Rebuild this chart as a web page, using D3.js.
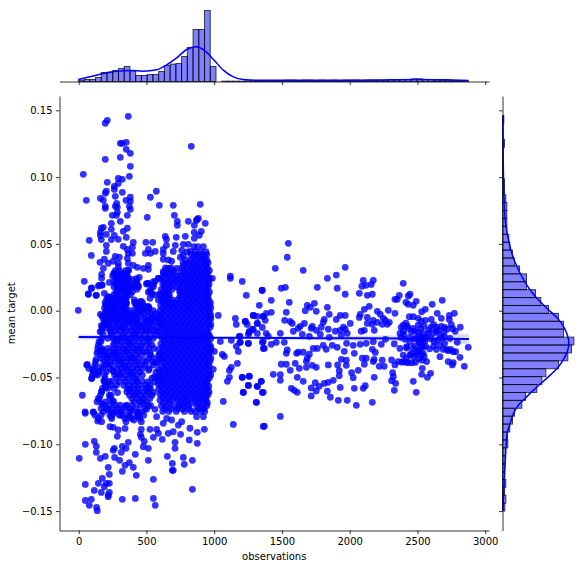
<!DOCTYPE html>
<html><head><meta charset="utf-8">
<script src="https://cdnjs.cloudflare.com/ajax/libs/d3/7.8.5/d3.min.js"></script>
<style>html,body{margin:0;padding:0;background:#fff}svg{display:block}text{font-family:"DejaVu Sans",sans-serif;font-size:10px;fill:#000}</style>
</head><body><svg id="c" width="583" height="568"></svg>
<script>
const xTicks=[0,500,1000,1500,2000,2500,3000];
const yTicks=[-0.15,-0.10,-0.05,0,0.05,0.10,0.15];
const xLabel="observations", yLabel="mean target";
const histXStart=-3, histXWidth=42.35;
const histXCounts=[4,6,6,12,27,28,33,39,45,32,18,18,21,21,30,48,52,54,75,102,156,156,213,45,
 0,1,1,1,1,2,2,2,3,3,3,3,4,4,3,4,4,3,4,3,4,3,4,4,4,3,4,4,4,4,5,5,6,6,8,8,6,6,5,4,4,3,2,2];
const histYStart=-0.15, histYWidth=0.00592;
const histYCounts=[7,10,6,10,6,6,8,9,16,15,22,30,36,58,69,103,118,130,168,196,207,214,183,183,168,
 138,115,99,72,72,51,36,30,22,19,13,13,13,13,10,6,6,2,2,1,1,6,1,1,4];
const kdeXObs=[-3,83,182,280,378,477,575,649,723,797,863,932,993,1067,1141,1215,1313,1633,2000,2300,2498,2700,2877];
const kdeXDens=[6,14,24,31,33,31,35,50,71,96,104,92,67,34,14,6,4,4,4,5,6,5,3];
const kdeYTarget=[-.1492,-.1392,-.1292,-.1193,-.1093,-.0993,-.0906,-.0843,-.0769,-.0706,-.0656,-.0606,-.0549,-.0482,-.0419,-.0364,-.03,-.024,-.0195,-.0132,-.0065,.0018,.0093,.0192,.0305,.0429,.0554,.0679,.0903,.1153,.1465];
const kdeYDens=[1,3,5,7,9,11,15,23,33,48,68,88,113,143,168,183,195,199,196,186,168,133,103,73,48,28,16,8,4,2,1];
const regObs=[0,300,600,900,1200,1500,1800,2100,2400,2700,2880];
const regFit=[-.0197,-.0199,-.02,-.0202,-.0203,-.0204,-.0206,-.0207,-.0208,-.021,-.0211];
const ciLow=[-.0217,-.021,-.0207,-.0207,-.0209,-.0215,-.022,-.0226,-.0232,-.0244,-.025];
const ciHigh=[-.0178,-.0188,-.0193,-.0196,-.0196,-.0193,-.019,-.0187,-.0183,-.0178,-.0175];

const upperLeft=[[366,.1455],[211,.1425],[196,.1403],[351,.126],[307,.1253],[322,.1253],[351,.1208],[381,.1178],[831,.123],[307,.1148],[196,.1133],[381,.1081],[34,.1021],[374,.1006],[292,.0991],[322,.0983],[211,.0961],[292,.0953],[263,.0931],[263,.0908],[204,.0894],[196,.0879],[322,.0886],[573,.0894],[270,.0856],[529,.0849],[160,.0841],[182,.0826],[56,.0826],[349,.0826],[381,.0849],[381,.0819],[280,.0804],[270,.0781],[285,.0774],[196,.0781],[196,.0766],[374,.0781],[381,.0759],[595,.0789],[698,.0789],[897,.0796],[285,.0736],[248,.0714],[278,.0714],[359,.0714],[706,.0714],[506,.0699],[307,.0669],[728,.0669],[728,.0639],[809,.0669],[875,.0684],[883,.0691],[868,.0676],[853,.0639],[934,.0654],[241,.0654],[182,.0624],[167,.0617],[241,.0609],[359,.0617],[329,.0594],[160,.0587],[160,.0562],[167,.0532],[204,.0572],[905,.0594],[853,.0587],[890,.0564],[853,.0542],[78,.0527],[241,.0532],[263,.0564],[292,.0534],[351,.0549],[403,.0512],[496,.0512],[546,.0512],[639,.0557],[647,.0534],[720,.0549],[787,.0557],[204,.0489],[204,.0444],[329,.0482],[396,.0475],[772,.0497],[809,.0497],[713,.0489],[647,.0489],[93,.0414],[492,.0429],[514,.0459],[529,.0429],[565,.0444],[359,.0459],[366,.0429],[396,.0429],[624,.0459],[624,.0429],[698,.0444],[760,.0452],[824,.0444],[772,.0414],[750,.04],[270,.0407],[300,.04],[359,.0392],[157,.0362],[189,.0385],[218,.0355],[255,.037],[292,.0355],[624,.0385],[661,.038],[686,.037],[366,.0355],[403,.034],[433,.0325],[514,.034],[514,.031],[477,.0317],[182,.0317],[292,.033],[366,.0305],[169,.0272],[169,.0242],[263,.028],[329,.0267],[624,.0292],[661,.0317],[723,.0317],[41,.022],[447,.025],[391,.0235],[506,.0205],[565,.022],[551,.0192],[588,.0242],[986,.0242],[93,.0167],[152,.019],[174,.0192],[226,.0212],[71,.0123],[130,.0115],[189,.013],[218,.0105],[292,.0192],[329,.018],[403,.018],[440,.0185],[514,.0138],[543,.0125],[526,.0093],[243,.008],[280,.0085],[206,.0043],[415,.0063],[462,.007],[440,.0035],[354,.0055],[514,.003],[600,.0125],[624,.008],[674,.0055],[-3,.0003],[160,-.0027],[167,-.0112],[231,-.002],[280,-.007],[391,-.0045],[428,-.007],[501,-.007],[575,-.0057],[600,-.0095],[96,.017],[71,.0125],[128,.0115],[170,.0192],[145,.0185],[514,.0205],[551,.0217],[588,.0242],[551,.018],[526,.0142],[563,.0118],[588,.008],[514,.003],[452,.0068],[415,.0055],[465,.0018]];

const lowerLeft=[[64,-.0402],[103,-.0444],[96,-.0506],[27,-.0633],[49,-.0768],[108,-.0761],[140,-.0826],[169,-.0831],[152,-.0664],[169,-.0604],[226,-.0633],[255,-.0676],[241,-.0793],[231,-.0868],[255,-.0873],[314,-.0783],[292,-.0893],[285,-.094],[349,-.0831],[342,-.0881],[115,-.0978],[49,-.1],[130,-.1015],[130,-.106],[160,-.1105],[196,-.109],[4,-.1105],[263,-.103],[255,-.1045],[322,-.1015],[314,-.106],[366,-.0985],[349,-.103],[265,-.1098],[302,-.112],[418,-.1075],[342,-.1157],[374,-.1137],[403,-.1172],[322,-.1202],[218,-.1172],[226,-.1225],[425,-.1232],[514,-.112],[654,-.109],[772,-.1098],[691,-.1143],[779,-.115],[839,-.112],[691,-.1195],[698,-.1195],[551,-.1262],[49,-.13],[174,-.1255],[145,-.1292],[204,-.1292],[226,-.1292],[189,-.1317],[115,-.1345],[167,-.136],[226,-.136],[218,-.1392],[218,-.138],[839,-.1337],[49,-.142],[93,-.1412],[78,-.1457],[132,-.1472],[137,-.1497],[322,-.1412],[418,-.1405],[551,-.1405],[565,-.1457],[462,-.0948],[484,-.0978],[455,-.0925],[477,-.1018],[514,-.103],[551,-.0948],[588,-.0918],[617,-.0963],[661,-.0918],[698,-.0906],[752,-.0925],[711,-.0985],[711,-.103],[816,-.0968],[875,-.091],[875,-.0993],[927,-.0888],[526,-.0888],[575,-.0888],[440,-.0793],[462,-.0831],[462,-.0888],[408,-.0818],[378,-.0793],[501,-.0738],[563,-.0738],[575,-.0793],[624,-.0843],[649,-.0806],[686,-.0818],[735,-.0856],[760,-.0831],[821,-.088],[870,-.0793],[920,-.0793]];

const nearBlob=[[1119,.0259],[1119,.0242],[1207,.0219],[1237,.0115],[1353,.0152],[1333,.004],[1030,-.0035],[1156,-.0058],[1163,-.0103],[1230,-.008],[1244,-.0103],[1289,-.0035],[1318,-.0043],[1362,-.0043],[1318,-.0095],[1355,-.0125],[1281,-.014],[1259,-.0155],[1252,-.0177],[1318,-.017],[1185,-.0192],[1045,-.023],[1126,-.0222],[1193,-.0237],[1252,-.0245],[1163,-.0267],[1178,-.0305],[1362,-.023],[1362,-.0282],[1001,-.0305],[1060,-.0327],[1075,-.0342],[1171,-.0395],[1126,-.0424],[1112,-.0447],[993,-.0439],[1112,-.0499],[1097,-.0529],[1207,-.0499],[1259,-.0492],[1252,-.0559],[1348,-.0529],[1318,-.0567],[1355,-.0612],[1215,-.0612],[1311,-.0686],[1067,-.0679],[1141,-.0851],[1362,-.0866]];

const upperRight=[[1547,.0504],[1539,.04],[1451,.0317],[1657,.0302],[1967,.0325],[1901,.0267],[1835,.0242],[2100,.0227],[2174,.0227],[2159,.0197],[2120,.019],[2090,.0183],[2395,.0205],[1761,.0175],[1908,.0168],[1495,.0168],[1525,.0175],[1355,.0153],[1967,.0123],[2071,.013],[2130,.0115],[2167,.0123],[2445,.0123],[2432,.011],[2366,.0115],[2351,.0085],[2334,.0085],[1421,.0078],[1554,.0063],[1687,.004],[1672,0],[1709,.0025],[1739,.0055],[1753,-.0005],[1835,.0025],[1849,-.0027],[2144,.0033],[2108,.001],[2078,-.0027],[2071,-.005],[2130,-.005],[2204,-.0005],[2285,.0003],[2334,-.002],[2415,.0063],[2432,.0048],[2469,.004],[2491,.007],[2609,.0048],[2683,.0078],[1532,-.0012],[1421,-.0012],[1384,-.002],[1288,-.0035],[1377,-.0072],[1362,-.0042],[1229,-.008],[1318,-.0095],[1288,-.0139],[1259,-.0162],[1384,-.0169],[1399,-.0192],[1190,-.0192],[1520,-.0072],[1561,-.008],[1576,-.0095],[1665,-.0095],[1635,-.0117],[1620,-.0132],[1584,-.0154],[1488,-.0169],[1650,-.0177],[1702,-.0192],[1724,-.0117],[1716,-.0132],[1753,-.0147],[1790,-.0124],[1783,-.0177],[1812,-.0065],[1805,-.0087],[1901,-.0065],[1930,-.0035],[1967,-.0035],[2004,-.0095],[1842,-.0139],[1894,-.0154],[1930,-.0147],[1953,-.0124],[1967,-.0139],[1982,-.0169],[1938,-.0184],[1849,-.0199],[2085,-.0154],[2108,-.0147],[2181,-.0147],[2167,-.0102],[2130,-.0095],[2174,-.0072],[2226,-.0027],[2263,-.0072],[2292,-.0087],[2240,-.0102],[2204,-.0087],[2248,-.0057],[2277,-.0102]];

const rightCluster=[[2395,-.0109],[2415,-.0094],[2440,-.0045],[2469,-.0045],[2506,-.0057],[2531,-.0007],[2558,.001],[2646,-.002],[2735,-.0035],[2772,-.002],[2676,-.0057],[2735,-.0065],[2602,-.0065],[2558,-.0072],[2528,-.008],[2432,-.0132],[2506,-.0109],[2550,-.0117],[2602,-.0124],[2639,-.0124],[2676,-.0117],[2720,-.0139],[2779,-.0154],[2816,-.0124],[2371,-.0169],[2395,-.0154],[2469,-.0132],[2506,-.0162],[2543,-.0169],[2580,-.0169],[2617,-.0169],[2666,-.0184],[2378,-.0199],[2408,-.0214],[2445,-.0199],[2494,-.0207],[2531,-.0199],[2568,-.0199],[2624,-.0232],[2678,-.0207],[2740,-.0207],[2794,-.0237],[2875,-.0274],[2329,-.0249],[2371,-.0282],[2420,-.0269],[2445,-.0237],[2469,-.0282],[2518,-.0244],[2543,-.0269],[2666,-.0259],[2715,-.0289],[2764,-.0307],[2727,-.0299],[2395,-.0332],[2420,-.0356],[2457,-.0319],[2494,-.0327],[2543,-.0319],[2666,-.0344],[2782,-.0307],[2814,-.0349],[2764,-.0389],[2727,-.0381],[2757,-.0406],[2846,-.0416],[2309,-.0369],[2334,-.0406],[2358,-.0381],[2395,-.0381],[2432,-.0389],[2486,-.0386],[2568,-.0381],[2317,-.0464],[2322,-.0494],[2309,-.0524],[2339,-.0544],[2329,-.0596],[2469,-.0529],[2491,-.0611],[2536,-.0431],[2531,-.0476],[2573,-.0499],[2597,-.0469],[2480,-.021],[2510,-.0235],[2555,-.0225],[2590,-.0285],[2640,-.029],[2510,-.0295],[2550,-.0345],[2600,-.021],[2640,-.0155],[2695,-.016],[2380,-.0125],[2400,-.0175],[2425,-.0115],[2455,-.0155],[2480,-.0155],[2525,-.0135],[2515,-.019],[2535,-.022],[2550,-.0205],[2585,-.0145],[2620,-.0105],[2655,-.0145],[2700,-.0125],[2750,-.0105],[2760,-.0135],[2700,-.0245],[2690,-.029],[2745,-.029],[2480,-.0265],[2525,-.0275],[2560,-.0265],[2500,-.031],[2530,-.0325],[2420,-.028],[2445,-.033],[2470,-.0345],[2385,-.0385],[2415,-.0385],[2460,-.039],[2510,-.036],[2535,-.037],[2650,-.022],[2700,-.0195],[2620,-.0265]];

const lowerRight=[[2181,-.0499],[2026,-.0501],[2014,-.0464],[2063,-.0446],[1923,-.0486],[1923,-.0449],[1911,-.0406],[1842,-.0406],[1753,-.0424],[1724,-.0409],[1680,-.0424],[1628,-.0431],[1598,-.0394],[1561,-.0446],[1532,-.0401],[1495,-.0401],[1436,-.0476],[1488,-.0479],[1488,-.0521],[1613,-.0499],[1657,-.0529],[1347,-.0529],[1318,-.0566],[1252,-.0559],[1259,-.0489],[1207,-.0499],[1215,-.0611],[1362,-.0611],[1311,-.0686],[1488,-.0791],[1370,-.0865],[1569,-.0581],[1591,-.0596],[1613,-.0611],[1716,-.0638],[1716,-.0578],[1746,-.0539],[1775,-.0566],[1753,-.0601],[1812,-.0544],[1842,-.0536],[1879,-.0521],[1930,-.0574],[1835,-.0603],[1857,-.0648],[1916,-.0671],[1982,-.0671],[2049,-.0708],[2167,-.0686],[2034,-.0581],[2100,-.0581],[2115,-.0561],[1731,-.0282],[1761,-.0282],[1805,-.0259],[1827,-.0289],[1871,-.0259],[1908,-.0274],[1960,-.0304],[1977,-.0244],[2026,-.0259],[2034,-.0319],[2078,-.0252],[2122,-.0244],[2167,-.0289],[2189,-.0312],[2174,-.0232],[2233,-.0252],[2263,-.0214],[1532,-.0319],[1539,-.0294],[1608,-.0319],[1621,-.0311],[1657,-.0311],[1702,-.0326],[1687,-.0356],[1680,-.0379],[1938,-.0364],[1975,-.0371],[1975,-.0409],[2093,-.0356],[2122,-.0356],[2108,-.0401],[2181,-.0364],[2174,-.0381],[2240,-.0371],[2218,-.0416],[2255,-.0416],[1252,-.0244],[1190,-.0237],[1355,-.0237],[1370,-.0282],[1421,-.0252],[1458,-.0237],[1517,-.0237]];

const leftRows=[[.03,[270,300,345,368]],[.026,[250,275,300,325,360]],[.022,[262,290,320,345,372,430]],[.018,[260,300,330,360,385,410,440]],[.014,[275,300,335,365,395]],[.01,[215,240,300,330,355]],[.006,[195,225,255,290,315,350,425,470]],[.002,[190,215,245,270,300,330,350,420,440,490,520]],[-.002,[195,225,255,280,310,345,375,405,445,480,530,570]],[-.006,[180,210,240,265,300,335,365,400,430,490,540,580]],[-.0107,[182,220,256,295,329,403,440,477,515,551]],[-.015,[170,231,270,310,350,390,430,470,510,552,575]],[-.0207,[170,215,255,305,345,385,425,465,505,550]],[-.0257,[145,255,300,340,380,425,500,540]],[-.0307,[145,182,225,268,310,350,395,440,480,502]],[-.0357,[170,210,255,285,325,365,405,440,515,555,600]],[-.0407,[59,120,195,240,295,335,375,420,450,490,550]],[-.0457,[108,150,205,260,320,365,405,452]],[-.0507,[96,195,280,330,370,415,540]],[-.0557,[195,240,280,370,410,450,495,526]],[-.0607,[170,355,395,440,480,514]],[-.0657,[145,231,392,430,477,526]],[-.0707,[182,225,270,305,355,395,452,514]],[-.0757,[47,108,182,240,270,317,379,440,465]],[-.0807,[145,243,341,391,452]]];

const leftRowsB=[[.028,[258,285,312,350]],[.024,[275,305,335,365,425]],[.02,[270,310,350,395,425,500]],[.016,[285,318,348,375,430,530]],[.012,[260,290,345,380]],[.008,[205,235,285,320,345,410]],[.004,[200,235,265,305,340,430,480]],[0,[205,235,260,290,320,345,380,430,460,505,550]],[-.004,[185,215,245,290,325,355,390,420,460,510,555,590]],[-.0083,[190,225,270,310,345,380,415,455,500,530,565]],[-.0128,[175,205,240,280,315,340,375,415,450,490,530,580]],[-.0178,[180,240,285,330,370,410,450,490,530,570]],[-.0232,[150,265,315,360,400,445,480,520]],[-.0282,[140,170,215,260,290,330,370,410,460,520,555]],[-.0332,[160,195,240,275,305,345,385,425,470,530,590]],[-.0382,[125,185,225,265,310,350,390,430,500,545,585]],[-.0432,[75,115,180,230,280,315,355,395,435,470,520]],[-.0482,[100,140,190,265,305,345,385,430,470]],[-.0532,[190,225,295,345,390,430,510,560]],[-.0582,[175,215,260,360,405,440,490,530]],[-.0632,[160,240,375,415,455,495,540]],[-.0682,[135,200,255,410,450,500]],[-.0732,[165,205,250,290,340,375,420,490]],[-.0782,[120,165,230,300,355,430,480]]];

const leftExtra=[[215,-.0011],[248,.0035],[283,.0112],[318,.0245],[352,.0138],[305,-.0047],[366,-.0092],[410,-.0031],[455,-.0112],[498,-.0145],[542,-.0063],[238,-.0163],[282,-.0227],[331,-.0196],[376,-.0238],[418,-.0171],[462,-.0263],[512,-.0212],[175,-.0296],[213,-.0341],[262,-.0317],[301,-.0369],[347,-.0298],[389,-.0352],[432,-.0289],[475,-.0378],[528,-.0322],[571,-.0391],[128,-.0365],[163,-.0421],[208,-.0398],[252,-.0448],[296,-.0473],[341,-.0415],[388,-.0469],[427,-.0516],[468,-.0527],[516,-.0445],[558,-.0495],[199,-.0571],[242,-.0527],[287,-.0613],[332,-.0558],[377,-.0589],[425,-.0625],[468,-.0668],[513,-.0586],[552,-.0612],[172,-.0697],[214,-.0741],[258,-.0769],[303,-.0755],[345,-.0712],[392,-.0748],[436,-.0772],[477,-.0693],[531,-.0711],[165,-.0231],[158,-.0157],[135,-.0318],[148,-.0455],[121,-.0478],[185,-.0523],[207,-.0091],[172,-.0038]];

const blobRows=[[.048,[850,880,920]],[.044,[800,860,900,940]],[.04,[850,890,930]],[.036,[770,810,850,890,930,955]],[.032,[640,680,760,800,840,880,920,950]],[.028,[625,665,700,750,790,830,870,910,950]],[.024,[610,650,690,730,770,810,850,890,930,965]],[.02,[620,660,700,740,780,820,860,900,940,962]],[.016,[610,650,690,745,785,825,865,905,945]],[.012,[600,640,670,755,795,835,875,915,955]],[.008,[610,650,690,730,770,810,850,890,930,960]],[.004,[605,645,685,725,765,805,845,885,925,968]],[0,[600,640,680,720,760,800,840,880,920,960]],[-.004,[595,635,675,715,755,795,835,875,915,955,975]],[-.0082,[600,640,680,720,760,800,840,880,920,960]],[-.0124,[610,650,690,730,770,810,850,890,930,970]],[-.0166,[595,635,675,715,755,795,835,875,915,955]],[-.0208,[615,655,695,735,775,815,855,895,935,975]],[-.025,[605,645,685,725,765,805,845,885,925,965]],[-.0292,[590,630,670,710,750,790,830,870,910,950,975]],[-.0334,[600,640,680,720,760,800,840,880,920,960]],[-.0376,[620,660,700,740,780,820,860,900,940,970]],[-.0418,[610,650,690,730,770,810,850,890,930,965]],[-.046,[570,600,640,680,720,760,800,840,880,920,960]],[-.0502,[575,610,650,690,730,770,810,850,890,930,965]],[-.0544,[585,625,665,705,745,785,825,865,905,945]],[-.0586,[590,630,670,710,750,790,830,870,910,950]],[-.0628,[600,640,680,720,760,800,840,880,920,955]],[-.067,[600,650,690,730,770,810,860,900,940]],[-.0712,[610,650,700,740,780,810,870,910,945]],[-.0754,[620,665,720,780,830,860,900,930]]];

const blobRowsB=[[.042,[830,870,910,945]],[.038,[790,830,870,910,945]],[.034,[775,820,860,900,940]],[.03,[650,700,775,815,855,895,935,965]],[.026,[630,670,715,750,790,830,870,910,950]],[.022,[630,670,710,750,790,830,870,910,950]],[.018,[635,675,720,760,800,840,880,920,955]],[.014,[625,660,745,780,820,860,900,940,965]],[.01,[630,665,745,790,830,870,910,950]],[.006,[625,665,705,745,785,825,865,905,945,972]],[.002,[620,660,700,740,780,820,860,900,940,975]],[-.002,[615,655,695,735,775,815,855,895,935,970]],[-.0061,[615,655,695,735,775,815,855,895,935,975]],[-.0103,[620,660,700,740,780,820,860,900,940,975]],[-.0145,[625,665,705,745,785,825,865,905,945]],[-.0187,[610,650,690,730,770,810,850,890,930,965]],[-.0229,[630,670,710,750,790,830,870,910,950]],[-.0271,[620,660,700,740,780,820,860,900,940,975]],[-.0313,[610,650,690,730,770,810,850,890,930,965]],[-.0355,[620,660,700,740,780,820,860,900,940,975]],[-.0397,[635,680,720,760,800,840,880,920,955]],[-.0439,[590,630,670,710,750,790,830,870,910,950]],[-.0481,[590,620,660,700,740,780,820,860,900,940,975]],[-.0523,[595,630,670,710,750,790,830,870,910,950]],[-.0565,[605,645,685,725,765,805,845,885,925,960]],[-.0607,[610,650,690,730,770,810,850,890,930,962]],[-.0649,[620,660,700,740,780,820,860,900,940]],[-.0691,[625,670,745,790,835,880,920,950]],[-.0733,[635,680,730,765,815,885,925]]];

const rowPoints=rows=>rows.flatMap(([t,xs])=>xs.map(o=>[o,t]));
const points=[...upperLeft,...lowerLeft,...nearBlob,...upperRight,...rightCluster,...lowerRight,...leftExtra,...rowPoints(leftRows),...rowPoints(leftRowsB),...rowPoints(blobRows),...rowPoints(blobRowsB)];

const L=59.5,R=489,T=96,B=530.5,topBase=81.5,rightBase=502.5;
const x=d3.scaleLinear().domain([(L-78.7)/.1355,(R-78.7)/.1355]).range([L,R]);
const y=d3.scaleLinear().domain([(310.7-B)/1336,(310.7-T)/1336]).range([B,T]);
const cTop=d3.scaleLinear().domain([0,224]).range([topBase,topBase-74.7]);
const cRight=d3.scaleLinear().domain([0,224]).range([rightBase,rightBase+74.7]);
const svg=d3.select("#c");
const blue="#0000ff";

svg.append("g").selectAll("circle").data(points).join("circle")
 .attr("cx",d=>x(d[0])).attr("cy",d=>y(d[1])).attr("r",3.4)
 .attr("fill",blue).attr("fill-opacity",.8);
svg.append("path").datum(regObs.map((o,i)=>[o,ciLow[i],ciHigh[i]]))
 .attr("d",d3.area().x(d=>x(d[0])).y0(d=>y(d[1])).y1(d=>y(d[2])))
 .attr("fill",blue).attr("fill-opacity",.15);
svg.append("path").datum(regObs.map((o,i)=>[o,regFit[i]]))
 .attr("d",d3.line().x(d=>x(d[0])).y(d=>y(d[1])))
 .attr("fill","none").attr("stroke",blue).attr("stroke-width",2);

svg.append("g").selectAll("rect").data(histXCounts).join("rect")
 .attr("x",(d,i)=>x(histXStart+i*histXWidth)).attr("width",x(histXWidth)-x(0))
 .attr("y",d=>cTop(d)).attr("height",d=>cTop(0)-cTop(d))
 .attr("fill",blue).attr("fill-opacity",.5).attr("stroke","#000").attr("stroke-opacity",.7).attr("stroke-width",1);
svg.append("path").datum(kdeXObs.map((o,i)=>[o,kdeXDens[i]]))
 .attr("d",d3.line().curve(d3.curveMonotoneX).x(d=>x(d[0])).y(d=>cTop(d[1])))
 .attr("fill","none").attr("stroke",blue).attr("stroke-width",1.5);

svg.append("g").selectAll("rect").data(histYCounts).join("rect")
 .attr("y",(d,i)=>y(histYStart+(i+1)*histYWidth)).attr("height",y(0)-y(histYWidth))
 .attr("x",cRight(0)).attr("width",d=>cRight(d)-cRight(0))
 .attr("fill",blue).attr("fill-opacity",.5).attr("stroke","#000").attr("stroke-opacity",.7).attr("stroke-width",1);
svg.append("path").datum(kdeYTarget.map((t,i)=>[t,kdeYDens[i]]))
 .attr("d",d3.line().curve(d3.curveMonotoneY).y(d=>y(d[0])).x(d=>cRight(d[1])))
 .attr("fill","none").attr("stroke",blue).attr("stroke-width",1.5);

const style=g=>{g.selectAll(".domain").attr("stroke","#000").attr("stroke-width",.8);
 g.selectAll(".tick line").attr("stroke","#000").attr("stroke-width",.8);
 g.selectAll("text").attr("fill","#000").style("font-size","10px").style("font-family",'"DejaVu Sans",sans-serif');};
const fmtX=d3.format("d"), fmtY=d3.format(".2f");
svg.append("g").attr("transform",`translate(0,${B})`)
 .call(d3.axisBottom(x).tickValues(xTicks).tickSizeInner(3.5).tickSizeOuter(0).tickPadding(3.5).tickFormat(fmtX)).call(style);
svg.append("g").attr("transform",`translate(${L},0)`)
 .call(d3.axisLeft(y).tickValues(yTicks).tickSizeInner(3.5).tickSizeOuter(0).tickPadding(3.5).tickFormat(fmtY)).call(style);
svg.append("g").attr("transform",`translate(0,${topBase})`)
 .call(d3.axisBottom(x).tickValues(xTicks).tickSizeInner(3.5).tickSizeOuter(0).tickFormat("")).call(style);
svg.append("g").attr("transform",`translate(${rightBase},0)`)
 .call(d3.axisLeft(y).tickValues(yTicks).tickSizeInner(3.5).tickSizeOuter(0).tickFormat("")).call(style);
svg.append("text").attr("x",(L+R)/2).attr("y",560).attr("text-anchor","middle").text(xLabel);
svg.append("text").attr("transform",`translate(15,${(T+B)/2}) rotate(-90)`).attr("text-anchor","middle").text(yLabel);
</script></body></html>
